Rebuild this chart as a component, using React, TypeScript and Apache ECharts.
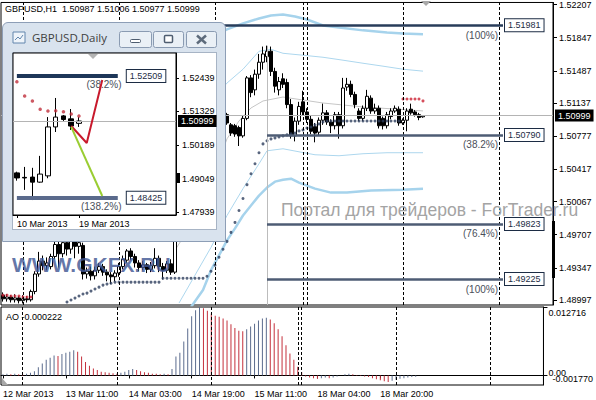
import React, { useEffect, useRef } from 'react';
import * as echarts from 'echarts';

const FONT = 'Liberation Sans';

// ---------- main H1 chart data ----------
const barCount = 138;
const tickBars = [0, 16, 32, 48, 64, 80, 96];
const tickLabels = ['12 Mar 2013', '13 Mar 11:00', '14 Mar 03:00', '14 Mar 19:00', '15 Mar 11:00', '18 Mar 04:00', '18 Mar 20:00'];
const daySeparatorBars = [5, 29, 53, 75, 76, 100, 124];
const priceTicks = [1.52207, 1.51847, 1.51487, 1.51137, 1.50777, 1.50417, 1.50067, 1.49707, 1.49347, 1.48997];
const priceMin = 1.48943;
const priceMax = 1.52229;
const lastPrice = 1.50999;
const headerText = 'GBPUSD,H1  1.50987 1.51006 1.50977 1.50999';

const opens = [
  1.4905, 1.4901, 1.4903, 1.4900, 1.4902, 1.4899, 1.4901, 1.4900, 1.4909, 1.4928,
  1.4942, 1.4937, 1.4936, 1.4947, 1.4960, 1.4950, 1.4962, 1.4955, 1.4966, 1.4958,
  1.4959, 1.4928, 1.4931, 1.4926, 1.4932, 1.4936, 1.4930, 1.4927, 1.4925, 1.4929,
  1.4936, 1.4943, 1.4953, 1.4947, 1.4940, 1.4935, 1.4938, 1.4933, 1.4937, 1.4945,
  1.4936, 1.4932, 1.4939, 1.4930, 1.4975, 1.4990, 1.4985, 1.5005, 1.5020, 1.5015,
  1.5035, 1.5050, 1.5062, 1.5075, 1.5090, 1.5085, 1.5101, 1.5090, 1.5089, 1.5087,
  1.5078, 1.5097, 1.5141, 1.5128, 1.5145, 1.5158, 1.5164, 1.5170, 1.5148, 1.5128,
  1.5140, 1.5136, 1.5112, 1.5078, 1.5094, 1.5115, 1.5104, 1.5096, 1.5088, 1.5082,
  1.5095, 1.5103, 1.5093, 1.5089, 1.5101, 1.5089, 1.5131, 1.5134, 1.5123, 1.5105,
  1.5097, 1.5108, 1.5119, 1.5105, 1.5108, 1.5097, 1.5089, 1.5099, 1.5105, 1.5107,
  1.5092, 1.5095, 1.5107, 1.5104, 1.5101, 1.50987,
];
const closes = [
  1.4901, 1.4903, 1.4900, 1.4902, 1.4899, 1.4901, 1.4900, 1.4909, 1.4928, 1.4942,
  1.4937, 1.4940, 1.4947, 1.4960, 1.4950, 1.4962, 1.4955, 1.4966, 1.4958, 1.4962,
  1.4928, 1.4931, 1.4926, 1.4932, 1.4936, 1.4930, 1.4927, 1.4925, 1.4929, 1.4936,
  1.4944, 1.4953, 1.4947, 1.4940, 1.4935, 1.4938, 1.4933, 1.4937, 1.4945, 1.4936,
  1.4932, 1.4939, 1.4930, 1.4975, 1.4990, 1.4985, 1.5005, 1.5020, 1.5015, 1.5035,
  1.5050, 1.5062, 1.5075, 1.5090, 1.5085, 1.5102, 1.5092, 1.5081, 1.5080, 1.5078,
  1.5097, 1.5141, 1.5125, 1.5145, 1.5158, 1.5167, 1.5170, 1.5148, 1.5132, 1.5137,
  1.5134, 1.5112, 1.5078, 1.5094, 1.5110, 1.5104, 1.5096, 1.5083, 1.5081, 1.5095,
  1.5103, 1.5093, 1.5089, 1.5101, 1.5089, 1.5130, 1.5134, 1.5123, 1.5112, 1.5097,
  1.5108, 1.5121, 1.5105, 1.5108, 1.5089, 1.5089, 1.5101, 1.5105, 1.5108, 1.5092,
  1.5095, 1.5105, 1.5103, 1.5101, 1.5098, 1.50999,
];
const lows = [
  1.4898, 1.4898, 1.4897, 1.4897, 1.4896, 1.4896, 1.4897, 1.4898, 1.4906, 1.4925,
  1.4932, 1.4932, 1.4933, 1.4944, 1.4935, 1.4946, 1.4948, 1.4950, 1.4945, 1.4950,
  1.4922, 1.4923, 1.4921, 1.4922, 1.4929, 1.4926, 1.4920, 1.4917, 1.4920, 1.4925,
  1.4933, 1.4940, 1.4943, 1.4935, 1.4931, 1.4932, 1.4929, 1.4930, 1.4934, 1.4930,
  1.4922, 1.4929, 1.4927, 1.4928, 1.4968, 1.4978, 1.4982, 1.5000, 1.5008, 1.5012,
  1.5030, 1.5045, 1.5058, 1.5070, 1.5080, 1.5082, 1.5090, 1.5078, 1.5077, 1.5067,
  1.5076, 1.5095, 1.5120, 1.5122, 1.5140, 1.5150, 1.5158, 1.5143, 1.5125, 1.5122,
  1.5130, 1.5108, 1.5075, 1.5072, 1.5090, 1.5100, 1.5092, 1.5080, 1.5071, 1.5078,
  1.5090, 1.5090, 1.5081, 1.5085, 1.5075, 1.5086, 1.5127, 1.5120, 1.5108, 1.5094,
  1.5094, 1.5105, 1.5102, 1.5102, 1.5086, 1.5085, 1.5086, 1.5096, 1.5103, 1.5089,
  1.5090, 1.5083, 1.5101, 1.5099, 1.5095, 1.50977,
];
const highs = [
  1.4908, 1.4906, 1.4905, 1.4906, 1.4904, 1.4905, 1.4904, 1.4911, 1.4931, 1.4952,
  1.4948, 1.4946, 1.4950, 1.4966, 1.4968, 1.4970, 1.4972, 1.4975, 1.4973, 1.4970,
  1.4962, 1.4935, 1.4936, 1.4936, 1.4940, 1.4939, 1.4933, 1.4930, 1.4932, 1.4940,
  1.4948, 1.4955, 1.4956, 1.4950, 1.4943, 1.4942, 1.4940, 1.4941, 1.4956, 1.4948,
  1.4940, 1.4942, 1.4944, 1.4980, 1.4995, 1.5000, 1.5010, 1.5028, 1.5030, 1.5040,
  1.5058, 1.5070, 1.5085, 1.5098, 1.5105, 1.5108, 1.5103, 1.5092, 1.5091, 1.5089,
  1.5100, 1.5143, 1.5144, 1.5150, 1.5167, 1.5175, 1.5176, 1.5175, 1.5152, 1.5142,
  1.5146, 1.5140, 1.5118, 1.5098, 1.5115, 1.5127, 1.5108, 1.5100, 1.5092, 1.5098,
  1.5113, 1.5106, 1.5096, 1.5104, 1.5104, 1.5141, 1.5141, 1.5138, 1.5126, 1.5108,
  1.5111, 1.5128, 1.5122, 1.5113, 1.5111, 1.5099, 1.5104, 1.5108, 1.5111, 1.5110,
  1.5097, 1.5108, 1.5113, 1.5106, 1.5103, 1.51006,
];

// Parabolic-style dots
const sarDarkStart = 16;
const sarDark = [
  1.48975, 1.48997, 1.49018, 1.49040, 1.49062, 1.49072, 1.49094, 1.49116, 1.49137, 1.49159, 1.49170, 1.49180,
  1.49191, 1.49191, 1.49191, 1.49191, 1.49191, 1.49191, 1.49191, 1.49191, 1.49191, 1.49191, 1.49191, 1.49191,
  1.49234, 1.49234, 1.49234, 1.49234, 1.49234, 1.49234, 1.49234, 1.49234, 1.49234, 1.49234, 1.49234,
  1.49256, 1.49310, 1.49375, 1.49461, 1.49548, 1.49634, 1.49732, 1.49840, 1.49969, 1.50099,
  1.50250, 1.50369, 1.50477, 1.50596, 1.50693, 1.50726, 1.50747, 1.50758, 1.50769, 1.50780,
  1.50791, 1.50802, 1.50812, 1.50834, 1.50845, 1.50866, 1.50877, 1.50899, 1.50910, 1.50931,
  1.50942, 1.50942, 1.50942, 1.50942, 1.50942, 1.50942, 1.50942, 1.50942, 1.50942, 1.50942,
  1.50942, 1.50942, 1.50942, 1.50942, 1.50942, 1.50942, 1.50942, 1.50942, 1.50942,
];
const sarRedPoints: [number, number][] = [
  [0, 1.4905], [1, 1.4905], [2, 1.4904], [3, 1.4904], [4, 1.4904], [5, 1.4903], [6, 1.4903], [7, 1.4903],
  [100, 1.5118], [101, 1.5118], [102, 1.5118], [103, 1.5118], [104, 1.5118], [105, 1.5116],
];

// bands [bar, price]
const bandUpperOuter = [[52, 1.51851], [56, 1.51937], [60, 1.52002], [64, 1.52055], [67, 1.52088], [70, 1.52098], [73, 1.52077], [76, 1.52044], [80, 1.51980], [84, 1.51958], [90, 1.51926], [96, 1.51904], [100, 1.51893], [105, 1.51883]];
const bandUpperInner = [[52, 1.51159], [56, 1.51354], [60, 1.51504], [64, 1.51699], [67, 1.51720], [70, 1.51677], [75, 1.51656], [80, 1.51634], [85, 1.51602], [90, 1.51569], [95, 1.51537], [100, 1.51504], [105, 1.51483]];
const bandLowerInner = [[44, 1.48964], [48, 1.49267], [52, 1.49569], [56, 1.49915], [60, 1.50207], [64, 1.50477], [66, 1.50618], [70, 1.50640], [74, 1.50607], [78, 1.50575], [84, 1.50564], [90, 1.50586], [96, 1.50597], [105, 1.50597]];
const bandLowerOuter = [[47, 1.48921], [50, 1.49105], [52, 1.49321], [54, 1.49483], [56, 1.49645], [58, 1.49775], [60, 1.49915], [62, 1.50023], [64, 1.50131], [66, 1.50218], [68, 1.50283], [70, 1.50304], [72, 1.50315], [74, 1.50272], [78, 1.50207], [82, 1.50164], [86, 1.50164], [92, 1.50186], [100, 1.50196], [105, 1.50207]];
const bandMiddle = [[43, 1.49539], [47, 1.49809], [50, 1.50078], [53, 1.50402], [56, 1.50748], [59, 1.50942], [62, 1.51083], [65, 1.51159], [70, 1.51202], [80, 1.51137], [90, 1.51094], [105, 1.51051]];

// Fibonacci levels
const fibLevels = [1.51981, 1.50790, 1.49823, 1.49225];
const fibLabels = ['(100%)', '(38.2%)', '(76.4%)', '(100%)'];
const fibStartBars = [40, 66, 66, 66];
const fibEndBar = 125;
const fibAnchorBar = 66;
const fibAnchorPrice = 1.51759;

// AO
const aoValues = [
  0.0002, 0.0003, 0.0002, 0.0003, 0.0002, 0.0002, 0.0003, 0.0005, 0.0008, 0.0015,
  0.0022, 0.0029, 0.0033, 0.0037, 0.0036, 0.0040, 0.0042, 0.0044, 0.0047, 0.0044,
  0.0035, 0.0025, 0.0018, 0.0013, 0.0010, 0.0007, 0.0006, 0.0005, 0.0004, 0.0003,
  0.0005, 0.0007, 0.0010, 0.0012, 0.0010, 0.0008, 0.0006, 0.0005, 0.0003, 0.0003,
  0.0002, 0.0003, 0.0002, 0.0012, 0.0035, 0.0042, 0.0063, 0.0087, 0.0110, 0.0121,
  0.012716, 0.0125, 0.0120, 0.0115, 0.0111, 0.0109, 0.0106, 0.0102, 0.0095, 0.0088,
  0.0083, 0.0082, 0.0086, 0.0091, 0.0096, 0.0102, 0.0106, 0.0107, 0.0104, 0.0097,
  0.0086, 0.0073, 0.0056, 0.0041, 0.0029, 0.0016, 0.0006, -0.0002, -0.0004, -0.0005,
  -0.0006, -0.0005, -0.0004, -0.0005, -0.0004, -0.0002, 0.0000, 0.0002, 0.0003, 0.0002,
  0.0001, -0.0001, -0.0002, -0.0003, -0.0005, -0.0007, -0.0009, -0.0011, -0.0012, -0.0010,
  -0.0008, -0.0006, -0.0005, -0.0004, -0.0003, -0.000222,
];
const aoMin = -0.001775;
const aoMax = 0.012716;
const aoUpperTicks = [0.012716, 0];
const aoUpperLabels = ['0.012716', '0.00'];
const aoLowerTicks = [-0.00177];
const aoLowerLabels = ['-0.001770'];
const aoTitle = 'AO -0.000222';

const watermark1 = 'WWW.GKFX.RU';
const watermark2 = 'Портал для трейдеров - ForTrader.ru';

// ---------- inset daily chart data ----------
const insetTitle = 'GBPUSD,Daily';
const insetCount = 21;
const insetDates = ['10 Mar 2013', '11 Mar 2013', '12 Mar 2013', '13 Mar 2013', '14 Mar 2013', '15 Mar 2013', '17 Mar 2013', '18 Mar 2013', '19 Mar 2013'];
const insetTickBars = [0, 8];
const insetOpen = [1.4926, 1.4911, 1.4912, 1.4895, 1.4916, 1.5080, 1.5117, 1.5107, 1.5092];
const insetClose = [1.4909, 1.4909, 1.4895, 1.4922, 1.5080, 1.5113, 1.5105, 1.5083, 1.50999];
const insetLow = [1.4900, 1.4869, 1.4835, 1.4893, 1.4908, 1.5063, 1.5100, 1.5070, 1.5080];
const insetHigh = [1.4930, 1.4946, 1.4943, 1.4983, 1.5113, 1.5177, 1.5120, 1.5140, 1.5113];
const insetSar = [1.52315, 1.51836, 1.51668, 1.51390, 1.51333, 1.51344, 1.51310, 1.51233, 1.51166];
const insetTicks = [1.52439, 1.51329, 1.50189, 1.49049, 1.47939];
const insetMin = 1.47849;
const insetMax = 1.53277;
const insetLevels = [1.52509, 1.48425];
const insetLevelLabels = ['(38.2%)', '(138.2%)'];
const insetLevelEndBar = 13;
const insetRedPath: [number, number][] = [[7, 1.50831], [9, 1.50261], [11, 1.52372]];
const insetGreenPath: [number, number][] = [[7, 1.50800], [11, 1.48486]];

const boxLabel = (text: string, color: string) => ({
  show: true, position: 'end', distance: 2, formatter: text, color, fontSize: 9, fontFamily: FONT,
  backgroundColor: '#fff', borderColor: color, borderWidth: 1, padding: [2, 3, 1, 3],
});
const priceBox = (text: string) => ({
  show: true, position: 'end', distance: 2, formatter: text, color: '#fff', fontSize: 9, fontFamily: FONT,
  backgroundColor: '#000', padding: [2, 3, 1, 3],
});
const hiddenLine = { width: 0, color: 'rgba(0,0,0,0)', type: 'solid' };

function buildMain(): any {
  const cats = Array.from({ length: barCount }, (_, i) => String(i));
  const candle = opens.map((o, i) => [o, closes[i], lows[i], highs[i]]);
  const dashed = { type: [3, 2], color: '#000', width: 1 };
  const showTick = (i: number) => tickBars.includes(i);
  const fibColors = ['#283c5a', '#4e5c74', '#4e5c74', '#4e5c74'];
  const mainMarks: any[] = [
    { yAxis: lastPrice, lineStyle: { color: '#b4b4b4', width: 1, type: 'solid' }, label: priceBox(lastPrice.toFixed(5)) },
    ...daySeparatorBars.map((b) => ({ xAxis: b, lineStyle: dashed, label: { show: false } })),
    [{ xAxis: fibAnchorBar, yAxis: fibAnchorPrice, lineStyle: { color: '#bcbcbc', width: 1, type: 'solid' }, label: { show: false } }, { xAxis: fibAnchorBar, yAxis: priceMin }],
  ];
  fibLevels.forEach((v, i) => {
    mainMarks.push([
      { xAxis: fibStartBars[i], yAxis: v, lineStyle: { color: fibColors[i], width: 2.5, type: 'solid' }, label: boxLabel(v.toFixed(5), '#1c2c44') },
      { xAxis: fibEndBar, yAxis: v },
    ]);
    mainMarks.push([
      { xAxis: fibStartBars[i], yAxis: v, lineStyle: hiddenLine, label: { show: true, position: 'insideEndBottom', distance: 5, formatter: fibLabels[i], color: '#4a4f5a', fontSize: 10, fontFamily: FONT } },
      { xAxis: fibEndBar, yAxis: v },
    ]);
  });
  const bandLine = (data: number[][], color: string, width: number) => ({
    type: 'line', xAxisIndex: 0, yAxisIndex: 0, data, showSymbol: false, symbol: 'none',
    lineStyle: { color, width }, silent: true, z: 1,
  });
  const aoData = aoValues.map((v, i) => ({
    value: v,
    itemStyle: { color: i === 0 || v > aoValues[i - 1] ? '#5b6c8e' : '#c4303c' },
  }));
  const pickLabel = (ticks: number[], labels: string[], v: number) => {
    let k = 0;
    ticks.forEach((t, j) => { if (Math.abs(t - v) < 1e-7) k = j; });
    return labels[k];
  };
  return {
    animation: false,
    backgroundColor: '#fff',
    grid: [
      { left: 1, top: 1, width: 552, height: 304, show: true, borderColor: '#000', borderWidth: 1, backgroundColor: '#fff' },
      { left: 1, top: 307, width: 552, height: 78, show: true, borderColor: '#000', borderWidth: 1, backgroundColor: '#fff' },
    ],
    xAxis: [
      { type: 'category', gridIndex: 0, data: cats, boundaryGap: true, show: false },
      {
        type: 'category', gridIndex: 1, data: cats, boundaryGap: true,
        axisLine: { show: true, lineStyle: { color: '#000' } },
        axisTick: { show: true, interval: (i: number) => showTick(i), length: 3, alignWithLabel: true, lineStyle: { color: '#000' } },
        axisLabel: {
          interval: (i: number) => showTick(i), align: 'left', margin: 4, fontSize: 9, color: '#000', fontFamily: FONT,
          formatter: (_v: string, i: number) => tickLabels[tickBars.indexOf(i)] ?? '',
        },
        splitLine: { show: false },
      },
    ],
    yAxis: [
      {
        type: 'value', gridIndex: 0, position: 'right', min: priceMin, max: priceMax, scale: true,
        axisLine: { show: true, lineStyle: { color: '#000' } },
        axisTick: { show: true, length: 4, customValues: priceTicks, lineStyle: { color: '#000' } },
        axisLabel: { customValues: priceTicks, formatter: (v: number) => v.toFixed(5), fontSize: 9, color: '#000', margin: 6, fontFamily: FONT },
        splitLine: { show: false },
      },
      {
        type: 'value', gridIndex: 1, position: 'right', min: aoMin, max: aoMax,
        axisLine: { show: true, lineStyle: { color: '#000' } },
        axisTick: { show: true, length: 4, customValues: aoUpperTicks, lineStyle: { color: '#000' } },
        axisLabel: {
          customValues: aoUpperTicks, showMinLabel: true, showMaxLabel: true, margin: 5, fontSize: 9, color: '#000', fontFamily: FONT,
          formatter: (v: number) => {
            const text = pickLabel(aoUpperTicks, aoUpperLabels, v);
            return v > 0 ? `{t|${text}}` : `{z|${text}}`;
          },
          rich: {
            t: { fontSize: 9, color: '#000', fontFamily: FONT, padding: [11, 0, 0, 0] },
            z: { fontSize: 9, color: '#000', fontFamily: FONT, padding: [0, 0, 5, 0] },
          },
        },
        splitLine: { show: false },
      },
      {
        type: 'value', gridIndex: 1, position: 'right', min: aoMin, max: aoMax,
        axisLine: { show: false },
        axisTick: { show: false, customValues: aoLowerTicks },
        axisLabel: {
          customValues: aoLowerTicks, showMinLabel: true, margin: 9, fontSize: 9, color: '#000', fontFamily: FONT,
          formatter: (v: number) => `{b|${pickLabel(aoLowerTicks, aoLowerLabels, v)}}`,
          rich: { b: { fontSize: 9, color: '#000', fontFamily: FONT, padding: [0, 0, 12, 0] } },
        },
        splitLine: { show: false },
      },
    ],
    series: [
      bandLine(bandUpperOuter, '#a6d3ec', 2.5),
      bandLine(bandLowerOuter, '#a6d3ec', 2.5),
      bandLine(bandUpperInner, '#add7ee', 1),
      bandLine(bandLowerInner, '#add7ee', 1),
      bandLine(bandMiddle, '#c6c6c6', 1),
      {
        type: 'candlestick', xAxisIndex: 0, yAxisIndex: 0, data: candle, barWidth: 3, z: 3,
        itemStyle: { color: '#fff', color0: '#000', borderColor: '#000', borderColor0: '#000', borderWidth: 1 },
        markLine: { symbol: ['none', 'none'], silent: true, animation: false, data: mainMarks },
      },
      {
        type: 'scatter', xAxisIndex: 0, yAxisIndex: 0, symbol: 'circle', symbolSize: 3, z: 4,
        data: sarDark.map((v, i) => [sarDarkStart + i, v]), itemStyle: { color: '#2e3f5e' }, silent: true,
      },
      {
        type: 'scatter', xAxisIndex: 0, yAxisIndex: 0, symbol: 'circle', symbolSize: 3, z: 4,
        data: sarRedPoints, itemStyle: { color: '#cc2233' }, silent: true,
      },
      {
        type: 'bar', xAxisIndex: 1, yAxisIndex: 1, data: aoData, barWidth: 1, silent: true,
        markLine: {
          symbol: ['none', 'none'], silent: true, animation: false,
          data: daySeparatorBars.map((b) => ({ xAxis: b, lineStyle: dashed, label: { show: false } })),
        },
      },
    ],
    graphic: [
      { type: 'text', left: 5, top: 4, z: 50, style: { text: headerText, fontSize: 9, fill: '#000', fontFamily: FONT } },
      { type: 'text', left: 6, top: 312, z: 50, style: { text: aoTitle, fontSize: 9, fill: '#000', fontFamily: FONT } },
      { type: 'text', left: 12, top: 254, z: 60, style: { text: watermark1, fontSize: 21, fontWeight: 'bold', fill: 'rgba(66,88,148,0.82)', fontFamily: FONT } },
      { type: 'text', left: 281, top: 201, z: 60, style: { text: watermark2, fontSize: 17.5, fill: '#a4a4a4', fontFamily: FONT } },
      { type: 'rect', z: 50, shape: { x: 552, y: 221, width: 3, height: 57 }, style: { fill: '#000' } },
      { type: 'polygon', z: 50, shape: { points: [[421, 1], [431, 1], [426, 6]] }, style: { fill: '#a8a8a8' } },
      { type: 'polygon', z: 50, shape: { points: [[2, 378], [2, 385], [8, 385]] }, style: { fill: '#a8a8a8' } },
    ],
  };
}

function buildInset(): any {
  const cats = Array.from({ length: insetCount }, (_, i) => insetDates[i] ?? '');
  const candle = insetOpen.map((o, i) => [o, insetClose[i], insetLow[i], insetHigh[i]]);
  const levelColors = ['#1d3658', '#5a6a8c'];
  const marks: any[] = [
    { yAxis: lastPrice, lineStyle: { color: '#b4b4b4', width: 1, type: 'solid' }, label: priceBox(lastPrice.toFixed(5)) },
  ];
  insetLevels.forEach((v, i) => {
    marks.push([
      { xAxis: 0, yAxis: v, lineStyle: { color: levelColors[i], width: 4, type: 'solid' }, label: { ...boxLabel(v.toFixed(5), '#1c2c44'), distance: 9 } },
      { xAxis: insetLevelEndBar, yAxis: v },
    ]);
    marks.push([
      { xAxis: 0, yAxis: v, lineStyle: hiddenLine, label: { show: true, position: 'insideEndBottom', distance: 4, formatter: insetLevelLabels[i], color: '#4a4f5a', fontSize: 10, fontFamily: FONT } },
      { xAxis: insetLevelEndBar + 1, yAxis: v },
    ]);
  });
  const showTick = (i: number) => insetTickBars.includes(i);
  return {
    animation: false,
    grid: { left: 11, top: 31, width: 163, height: 162, show: true, borderColor: '#000', borderWidth: 1, backgroundColor: '#fff' },
    xAxis: {
      type: 'category', data: cats, boundaryGap: true,
      axisLine: { show: true, lineStyle: { color: '#000' } },
      axisTick: { show: true, interval: (i: number) => showTick(i), length: 3, alignWithLabel: true, lineStyle: { color: '#000' } },
      axisLabel: { interval: (i: number) => showTick(i), align: 'left', margin: 4, fontSize: 9, color: '#000', fontFamily: FONT },
      splitLine: { show: false },
    },
    yAxis: {
      type: 'value', position: 'right', min: insetMin, max: insetMax,
      axisLine: { show: true, lineStyle: { color: '#000' } },
      axisTick: { show: true, length: 3, customValues: insetTicks, lineStyle: { color: '#000' } },
      axisLabel: { customValues: insetTicks, formatter: (v: number) => v.toFixed(5), fontSize: 9, color: '#000', margin: 6, fontFamily: FONT },
      splitLine: { show: false },
    },
    series: [
      {
        type: 'candlestick', data: candle, barWidth: 5, z: 3,
        itemStyle: { color: '#fff', color0: '#000', borderColor: '#000', borderColor0: '#000', borderWidth: 1 },
        markLine: { symbol: ['none', 'none'], silent: true, animation: false, data: marks },
      },
      { type: 'scatter', data: insetSar.map((v, i) => [i, v]), symbolSize: 3.5, itemStyle: { color: '#c0303c' }, z: 4, silent: true },
      { type: 'line', data: insetRedPath, showSymbol: false, symbol: 'none', lineStyle: { color: '#c8192c', width: 2 }, z: 5, silent: true },
      { type: 'line', data: insetGreenPath, showSymbol: false, symbol: 'none', lineStyle: { color: '#9acd32', width: 2 }, z: 5, silent: true },
    ],
    graphic: [
      { type: 'rect', shape: { x: 11, y: 10, width: 12, height: 11 }, style: { fill: '#eef4fa', stroke: '#6286ad', lineWidth: 1 } },
      { type: 'polyline', shape: { points: [[13, 18], [16, 15], [18, 17], [21, 13]] }, style: { stroke: '#6286ad', lineWidth: 1, fill: 'none' } },
      { type: 'text', left: 30, top: 9, style: { text: insetTitle, fontSize: 11.5, fill: '#3e3e3e', fontFamily: 'Open Sans' } },
      { type: 'rect', shape: { x: 117.5, y: 9.5, width: 32, height: 16, r: 2 }, style: { fill: '#eaf0f6', stroke: '#8a9bb2', lineWidth: 1 } },
      { type: 'rect', shape: { x: 128.5, y: 17.5, width: 10, height: 3, r: 1 }, style: { fill: '#fff', stroke: '#4e5d70', lineWidth: 1 } },
      { type: 'rect', shape: { x: 151.5, y: 9.5, width: 30, height: 16, r: 2 }, style: { fill: '#eaf0f6', stroke: '#8a9bb2', lineWidth: 1 } },
      { type: 'rect', shape: { x: 162.5, y: 13.5, width: 8, height: 7, r: 1 }, style: { fill: '#fff', stroke: '#4e5d70', lineWidth: 1.5 } },
      { type: 'rect', shape: { x: 184.5, y: 9.5, width: 30, height: 16, r: 2 }, style: { fill: '#eaf0f6', stroke: '#8a9bb2', lineWidth: 1 } },
      { type: 'line', shape: { x1: 195, y1: 13.5, x2: 204, y2: 21.5 }, style: { stroke: '#5d6b7c', lineWidth: 2.5 } },
      { type: 'line', shape: { x1: 204, y1: 13.5, x2: 195, y2: 21.5 }, style: { stroke: '#5d6b7c', lineWidth: 2.5 } },
      { type: 'rect', z: 50, shape: { x: 175, y: 151, width: 3, height: 10 }, style: { fill: '#000' } },
      { type: 'polygon', z: 50, shape: { points: [[86, 32], [96, 32], [91, 37]] }, style: { fill: '#b4b4b4' } },
    ],
  };
}

export default function App() {
  const mainRef = useRef<HTMLDivElement>(null);
  const insetRef = useRef<HTMLDivElement>(null);
  useEffect(() => {
    const main = echarts.init(mainRef.current!, undefined, { renderer: 'svg' });
    main.setOption(buildMain());
    const inset = echarts.init(insetRef.current!, undefined, { renderer: 'svg' });
    inset.setOption(buildInset());
    return () => {
      main.dispose();
      inset.dispose();
    };
  }, []);
  return (
    <div style={{ position: 'fixed', left: 0, top: 0, width: 596, height: 400, background: '#fff', overflow: 'hidden' }}>
      <div ref={mainRef} style={{ position: 'absolute', left: 0, top: 0, width: 596, height: 400 }} />
      <div style={{ position: 'absolute', left: 2, top: 22, width: 224, height: 220, boxSizing: 'border-box', background: '#d9e3ee', border: '1px solid #8d9eb6', borderRadius: '6px 6px 0 0' }}>
        <div style={{ position: 'absolute', left: 9, top: 29, width: 205, height: 178, background: '#fff', border: '1px solid #a7b4c5', boxSizing: 'border-box' }} />
        <div ref={insetRef} style={{ position: 'absolute', left: -1, top: -1, width: 224, height: 220 }} />
      </div>
    </div>
  );
}
